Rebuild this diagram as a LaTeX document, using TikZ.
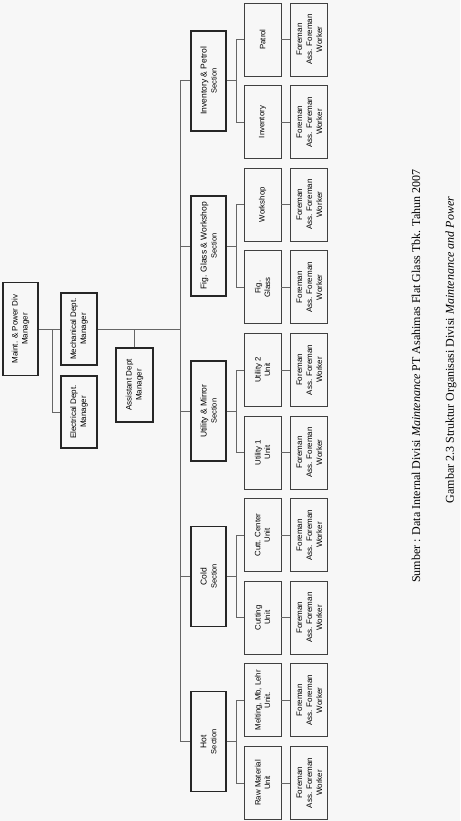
\documentclass[tikz,border=0pt]{standalone}
\usepackage{fontspec}
\setsansfont{Liberation Sans}
\newfontfamily\captionserif{Liberation Serif}
\usepackage{tikz}
\usetikzlibrary{positioning}
\newcommand{\orgsub}[1]{{\fontsize{7.5}{9}\selectfont #1}}
\tikzset{
    orgmanager/.style={draw=black!85, line width=1.5pt, rotate=90, align=center, font=\sffamily\fontsize{8}{10}\selectfont, minimum width=72pt, minimum height=36pt, inner sep=1pt},
    orgsection/.style={draw=black!85, line width=1.5pt, rotate=90, align=center, font=\sffamily\fontsize{8.5}{10}\selectfont, minimum width=100pt, minimum height=35pt, inner sep=1pt},
    orgunit/.style={draw=black!75, line width=0.9pt, rotate=90, align=center, font=\sffamily\fontsize{7.8}{9.5}\selectfont, minimum width=73pt, minimum height=37pt, inner sep=1pt},
    orgcrew/.style={draw=black!75, line width=0.9pt, rotate=90, align=center, font=\sffamily\fontsize{8}{10}\selectfont, minimum width=73pt, minimum height=37pt, inner sep=1pt},
    orgline/.style={draw=black!60, line width=0.8pt},
    orgnote/.style={rotate=90, font=\captionserif\fontsize{12}{14}\selectfont}
}

\begin{document}
\begin{tikzpicture}[x=1pt, y=-1pt]
    \fill[black!3] (0,0) rectangle (460,821);
    \useasboundingbox (0,0) rectangle (460,821);
    % managers
    \node[orgmanager, minimum width=93pt, minimum height=35pt] (divmgr) at (20.5,329) {Maint. \& Power Div\\Manager};
    \node[orgmanager] (mechmgr) at (79,329) {Mechanical Dept.\\Manager};
    \node[orgmanager] (elecmgr) at (79,412) {Electrical Dept.\\Manager};
    \node[orgmanager, minimum width=74pt, minimum height=37pt] (asstmgr) at (134.5,385) {Assistant Dept\\Manager};
    % sections
    \node[orgsection] (invsec) at (208.5,80.8) {Inventory \& Petrol\\\orgsub{Section}};
    \node[orgsection] (figsec) at (208.5,246) {Fig. Glass \& Workshop\\\orgsub{Section}};
    \node[orgsection] (utilsec) at (208.5,411.2) {Utility \& Mirror\\\orgsub{Section}};
    \node[orgsection] (coldsec) at (208.5,576.4) {Cold\\\orgsub{Section}};
    \node[orgsection] (hotsec) at (208.5,741.6) {Hot\\\orgsub{Section}};
    % units
    \node[orgunit] (patrol) at (262.5,39.5) {Patrol};
    \node[orgunit] (inventory) at (262.5,122.1) {Inventory};
    \node[orgunit] (workshop) at (262.5,204.7) {Workshop};
    \node[orgunit] (figglass) at (262.5,287.3) {Fig.\\Glass};
    \node[orgunit] (utiltwo) at (262.5,369.9) {Utility 2\\Unit};
    \node[orgunit] (utilone) at (262.5,452.5) {Utility 1\\Unit};
    \node[orgunit] (cuttcenter) at (262.5,535.1) {Cutt. Center\\Unit};
    \node[orgunit] (cutting) at (262.5,617.7) {Cutting\\Unit};
    \node[orgunit] (melting) at (262.5,700.3) {Melting, Mb, Lehr\\Unit.};
    \node[orgunit] (rawmat) at (262.5,782.9) {Raw Material\\Unit};
    % crews
    \foreach \unit in {patrol,inventory,workshop,figglass,utiltwo,utilone,cuttcenter,cutting,melting,rawmat}
        \node[orgcrew, right=9pt of \unit.south, anchor=north] (crew-\unit) {Foreman\\Ass. Foreman\\Worker};
    % connectors
    \coordinate (divbranch) at (52,329);
    \coordinate (bus) at (180,329);
    \coordinate (unitbus) at (236,329);
    \draw[orgline] (divmgr) -- (mechmgr);
    \draw[orgline] (divbranch) |- (elecmgr);
    \draw[orgline] (mechmgr) -- (bus);
    \draw[orgline] (asstmgr) -- (asstmgr |- mechmgr);
    \draw[orgline] (invsec -| bus) -- (hotsec -| bus);
    \foreach \sec/\first/\second in {invsec/patrol/inventory, figsec/workshop/figglass, utilsec/utiltwo/utilone, coldsec/cuttcenter/cutting, hotsec/melting/rawmat} {
        \draw[orgline] (\sec -| bus) -- (\sec);
        \draw[orgline] (\sec) -- (\sec -| unitbus);
        \draw[orgline] (\first) -| (unitbus |- \second) -- (\second);
    }
    \foreach \unit in {patrol,inventory,workshop,figglass,utiltwo,utilone,cuttcenter,cutting,melting,rawmat}
        \draw[orgline] (\unit) -- (crew-\unit);
    % caption
    \node[orgnote] (srcnote) at (416,376) {Sumber : Data Internal Divisi \textit{Maintenance} PT Asahimas Flat Glass Tbk. Tahun 2007};
    \node[orgnote] (fignote) at (451,350) {Gambar 2.3 Struktur Organisasi Divisi \textit{Maintenance and Power}};
\end{tikzpicture}
\end{document}
